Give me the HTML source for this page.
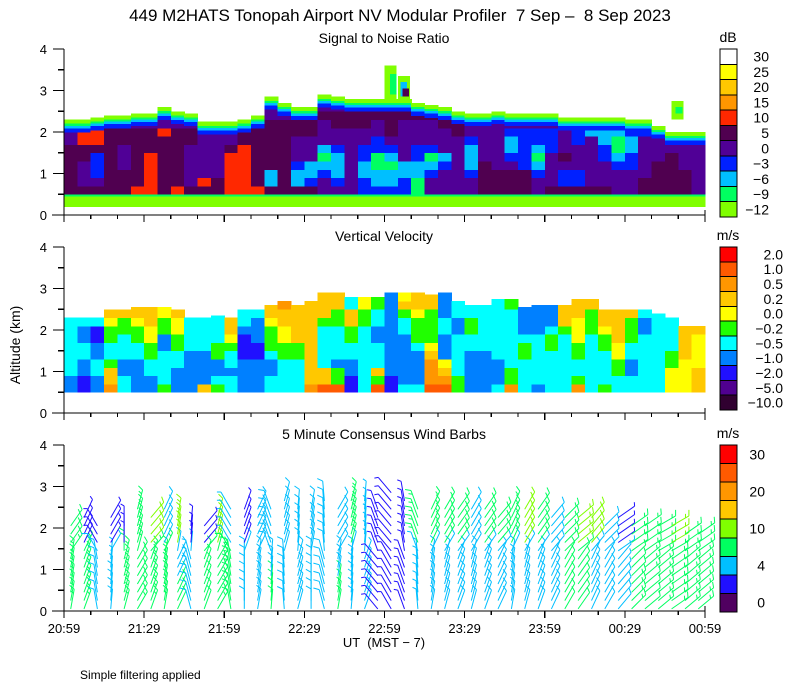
<!DOCTYPE html>
<html><head><meta charset="utf-8"><style>
body{margin:0;background:#fff;width:800px;height:700px;overflow:hidden}
svg{display:block;font-family:"Liberation Sans",sans-serif}
</style></head><body>
<svg id="chart" width="800" height="700" viewBox="0 0 800 700" shape-rendering="crispEdges">
<text x="400" y="21" font-size="17" text-anchor="middle" xml:space="preserve">449 M2HATS Tonopah Airport NV Modular Profiler  7 Sep –  8 Sep 2023</text>
<text x="384" y="43" font-size="14" text-anchor="middle">Signal to Noise Ratio</text>
<text x="384" y="241" font-size="14" text-anchor="middle">Vertical Velocity</text>
<text x="384" y="439" font-size="14" text-anchor="middle">5 Minute Consensus Wind Barbs</text>
<text transform="translate(20,345) rotate(-90)" font-size="14" text-anchor="middle">Altitude (km)</text>
<text x="384" y="647" font-size="13" text-anchor="middle" xml:space="preserve">UT  (MST − 7)</text>
<text x="80" y="679" font-size="12">Simple filtering applied</text>
<g id="plots"></g>
</svg>
<script>
// ---------- data ----------
const xTickLabels = ["20:59","21:29","21:59","22:29","22:59","23:29","23:59","00:29","00:59"];
const yTickLabels = ["0","1","2","3","4"];
const snrBarLabels = ["30","25","20","15","10","5","0","−3","−6","−9","−12"];
const vvBarLabels = ["2.0","1.0","0.5","0.2","0.0","−0.2","−0.5","−1.0","−2.0","−5.0","−10.0"];
const windBarLabels = ["30","","20","","10","","4","","0"];
const snrTop = [2.3,2.3,2.35,2.4,2.4,2.45,2.45,2.6,2.5,2.45,2.25,2.25,2.25,2.3,2.4,2.85,2.7,2.6,2.6,2.9,2.85,2.8,2.8,2.8,2.8,2.8,2.7,2.65,2.6,2.5,2.45,2.45,2.5,2.45,2.45,2.45,2.45,2.35,2.35,2.35,2.35,2.35,2.3,2.3,2.15,2.0,2.0,2.0];
const snrBody = ["55555544444","54445566444","54333566444","55555555444","55544455444","65555555444","66666555444","55555556444","65555555444","54444455444","56444444444","55444444444","66666544444","66666655444","65555555444","52255555544","55555555544","52234445544","53224445544","44321244454","43222344554","44444444554","33223344555","32211334455","32212345555","33224444455","11223344455","44321344455","44432444555","44444445554","44322234444","55554444444","55544444444","55543223444","55533333444","44321233444","54444333444","53345444444","53344433333","54444442222","54443322222","44432112234","44433223344","55444443333","55554444433","55555444433","55544444333","44444444333"];
const snrExtras = [[24.0,2.8,3.6,0],[24.4,2.9,3.4,1],[25.0,2.8,3.35,0],[25.2,2.85,3.2,2],[25.35,2.85,3.05,5],[45.5,2.3,2.75,0],[45.8,2.45,2.6,1]];
const vvTop = [2.3,2.3,2.3,2.5,2.5,2.55,2.55,2.55,2.5,2.3,2.3,2.35,2.3,2.5,2.5,2.6,2.7,2.6,2.7,3.0,3.0,2.8,2.8,2.8,2.9,3.0,3.0,2.85,2.9,2.7,2.6,2.6,2.75,2.75,2.55,2.6,2.6,2.6,2.75,2.75,2.5,2.5,2.5,2.5,2.4,2.3,2.1,2.1];
const vvBody = ["334444444444","223344334444","334433224444","877544556777","443344455776","333344556777","334455667777","544443355666","333445566777","333334444444","733334444444","543355444444","443445677444","333322234444","333322333444","443345556777","444455667788","444455777777","877777777777","977444445777","955344445577","223344557744","444444445566","957444334455","223333333333","433333344576","433334555677","988876555577","987633344333","554444433444","333334455444","333334444444","433344444444","855444444455","444455433333","344444433333","444445543333","444444457777","854455666777","444444455577","544445567777","445566777777","443344555777","444444433444","444444444444","666554444477","666677777777","777666677777"];
const windTop = [2.1,2.3,2.2,2.3,2.2,2.5,2.4,2.5,2.3,2.1,2.2,2.3,2.5,2.6,2.6,2.6,2.7,2.5,2.6,2.8,2.6,2.7,2.7,2.6,3.5,2.8,2.6,2.5,2.6,2.5,2.5,2.5,2.4,2.5,2.6,2.5,2.4,2.4,2.3,2.3,2.2,2.3,2.2,2.2,2.1,2.1,2.0,1.9];
const windDirLow = [10,20,350,5,15,30,20,10,25,345,20,30,350,0,10,5,355,15,0,345,10,5,20,320,330,340,355,10,15,20,15,20,25,10,15,20,25,30,35,25,30,40,45,50,50,55,50,50];
const windDirHigh = [35,25,330,30,0,15,40,25,10,5,40,15,330,20,25,340,15,5,10,355,30,15,5,340,320,350,340,25,30,35,30,35,40,25,30,35,40,45,50,40,45,55,55,55,60,60,55,55];
const windSpdLow = [8,9,5,5,8,9,8,8,6,5,6,8,7,5,5,7,5,5,5,5,6,5,5,3,3,3,4,5,5,5,5,5,5,5,5,5,5,6,7,5,5,5,8,7,8,8,8,8];
const windSpdMid = [8,8,5,4,8,9,9,8,5,4,7,9,9,5,5,5,5,5,5,5,5,5,4,3,3,3,4,5,5,5,5,5,5,5,5,5,5,6,7,5,5,4,7,8,8,9,9,8];
const windSpdHigh = [8,3,3,3,3,8,11,5,12,3,3,10,4,3,5,5,5,5,5,5,5,8,4,3,2,3,9,8,8,8,5,8,9,8,10,9,5,8,11,10,5,3,8,9,9,10,8,9];

// ---------- helpers ----------
const NS="http://www.w3.org/2000/svg";
const root=document.getElementById('plots');
const X0=64,X1=705,NCOL=48,PXKM=41.5;
const bases=[215,413,611];
const colX=c=>X0+c*(X1-X0)/NCOL;
const yOf=(p,h)=>bases[p]-h*PXKM;
function mk(tag,attrs,parent){const e=document.createElementNS(NS,tag);for(const k in attrs)e.setAttribute(k,attrs[k]);(parent||root).appendChild(e);return e;}
const snrColors=["#80ff00","#00ff60","#00bfff","#0020ff","#500096","#500050","#ff2800"];
const vvColors=["#300030","#500090","#2010ff","#0080ff","#00ffff","#20ff00","#ffff00","#ffc800","#ff9600","#ff5a00","#ff0000"];
const windColors=["#500060","#2010ff","#00bfff","#00ff60","#80ff00","#ffc800","#ff9600","#ff5a00","#ff0000"];
const windEdges=[2,4,6,10,15,20,25,30];
function windColor(s){let i=0;while(i<windEdges.length&&s>=windEdges[i])i++;return windColors[i];}

function band(g,p,c,h0,h1,fill,name){
  if(h1<=h0)return;
  const r=mk('rect',{x:colX(c),y:yOf(p,h1),width:(X1-X0)/NCOL+0.6,height:(h1-h0)*PXKM+0.4,fill:fill},g);
  
  
}

// ---------- SNR ----------
const gS=mk('g',{});


snrTop.forEach((T,c)=>{
  band(gS,0,c,0.2,0.45,snrColors[0],'snr-cell');
  band(gS,0,c,0.45,0.5,snrColors[1],'snr-cell');
  const bodyTop=T-0.3;
  const s=snrBody[c];
  for(let r=0;r<s.length;r++){
    const h0=0.5+0.2*r,h1=Math.min(0.7+0.2*r,bodyTop);
    if(h0>=bodyTop)break;
    band(gS,0,c,h0,h1,snrColors[+s[r]],'snr-cell');
  }
  band(gS,0,c,T-0.3,T-0.2,snrColors[3],'snr-cell');
  band(gS,0,c,T-0.2,T-0.14,snrColors[2],'snr-cell');
  band(gS,0,c,T-0.14,T-0.09,snrColors[1],'snr-cell');
  band(gS,0,c,T-0.09,T,snrColors[0],'snr-cell');
});
snrExtras.forEach(e=>{
  const r=mk('rect',{x:colX(e[0]),y:yOf(0,e[2]),width:(X1-X0)/NCOL*(e[3]===0?0.9:0.5),height:(e[2]-e[1])*PXKM,fill:snrColors[e[3]]},gS);
  
  
});

// ---------- Vertical velocity ----------
const gV=mk('g',{});


vvTop.forEach((T,c)=>{
  const s=vvBody[c];
  for(let r=0;r<s.length;r++){
    const h0=0.5+0.2*r,h1=Math.min(0.7+0.2*r,T);
    if(h0>=T)break;
    band(gV,1,c,h0,h1,vvColors[+s[r]],'velocity-cell');
  }
});

// ---------- Wind barbs ----------
const gW=mk('g',{'shape-rendering':'auto','stroke-width':'1','fill':'none'});


windTop.forEach((T,c)=>{
  const xc=colX(c)+(X1-X0)/NCOL/2;
  for(let h=0.05;h<=Math.min(T,2.9);h+=0.2){
    const spd=h<0.8?windSpdLow[c]:(h<1.6?windSpdMid[c]:windSpdHigh[c]);
    const dd=h<1.3?windDirLow[c]:windDirHigh[c];
    const d=dd*Math.PI/180;
    const col=windColor(spd);
    const y=yOf(2,h);
    const L=20;
    const ex=xc+L*Math.sin(d),ey=y-L*Math.cos(d);
    let path=`M${xc.toFixed(1)},${y.toFixed(1)}L${ex.toFixed(1)},${ey.toFixed(1)}`;
    let n=Math.min(3,Math.round(spd/3)),k=0;
    const fd=d-Math.PI/3;
    while(n>0){
      const len=n>=2?6:4;
      const bx=xc+(L-k*4)*Math.sin(d),by=y-(L-k*4)*Math.cos(d);
      path+=`M${bx.toFixed(1)},${by.toFixed(1)}l${(len*Math.sin(fd)).toFixed(1)},${(-len*Math.cos(fd)).toFixed(1)}`;
      n-=2;k++;
    }
    const p=mk('path',{d:path,stroke:col},gW);
    
    
  }
});

// ---------- axes ----------
for(let p=0;p<3;p++){
  const g=mk('g',{stroke:'#000','stroke-width':'1.2'});
  
  
  const b=bases[p];
  mk('line',{x1:X0,y1:b,x2:X0,y2:yOf(p,4)},g);
  mk('line',{x1:52,y1:b,x2:X1,y2:b},g);
  mk('line',{x1:X1,y1:b,x2:X1,y2:b-5},g);
  for(let i=0;i<=8;i++){
    const y=yOf(p,i/2);
    mk('line',{x1:i%2===0?53:58,y1:y,x2:X0,y2:y},g);
  }
  for(let i=0;i<=24;i++){
    const x=X0+i*(X1-X0)/24;
    mk('line',{x1:x,y1:b,x2:x,y2:b+(i%3===0?7:4)},g);
  }
  yTickLabels.forEach((t,i)=>{
    const tx=mk('text',{x:47,y:yOf(p,i)+5,'font-size':'13','text-anchor':'end'});
    tx.textContent=t;
    
    
  });
}
xTickLabels.forEach((t,i)=>{
  const tx=mk('text',{x:X0+i*(X1-X0)/8,y:633,'font-size':'13','text-anchor':'middle'});
  tx.textContent=t;
  
  
});

// ---------- color bars ----------
function colorbar(name,top,bottom,colors,labels,unit,labelX){
  const g=mk('g',{});
  
  
  const n=colors.length,hh=(bottom-top)/n;
  for(let i=0;i<n;i++){
    const r=mk('rect',{x:720,y:top+i*hh,width:17,height:hh,fill:colors[i],stroke:'#000','stroke-width':'1'},g);
    
    
    if(labels[i]){
      const t=mk('text',{x:labelX,y:top+i*hh+hh/2+5,'font-size':'14','text-anchor':'end'},g);
      t.textContent=labels[i];
      
      
    }
  }
  const u=mk('text',{x:728,y:top-7,'font-size':'14','text-anchor':'middle'},g);
  u.textContent=unit;
  
  
}
colorbar('snr-colorbar',49,217,["#ffffff","#ffff00","#ffc800","#ff9600","#ff2800","#500050","#500096","#0020ff","#00bfff","#00ff60","#80ff00"],snrBarLabels,'dB',769);
colorbar('velocity-colorbar',247,410,vvColors.slice().reverse(),vvBarLabels,'m/s',783);
colorbar('wind-colorbar',445,612,windColors.slice().reverse(),windBarLabels,'m/s',765);
</script>
</body></html>
